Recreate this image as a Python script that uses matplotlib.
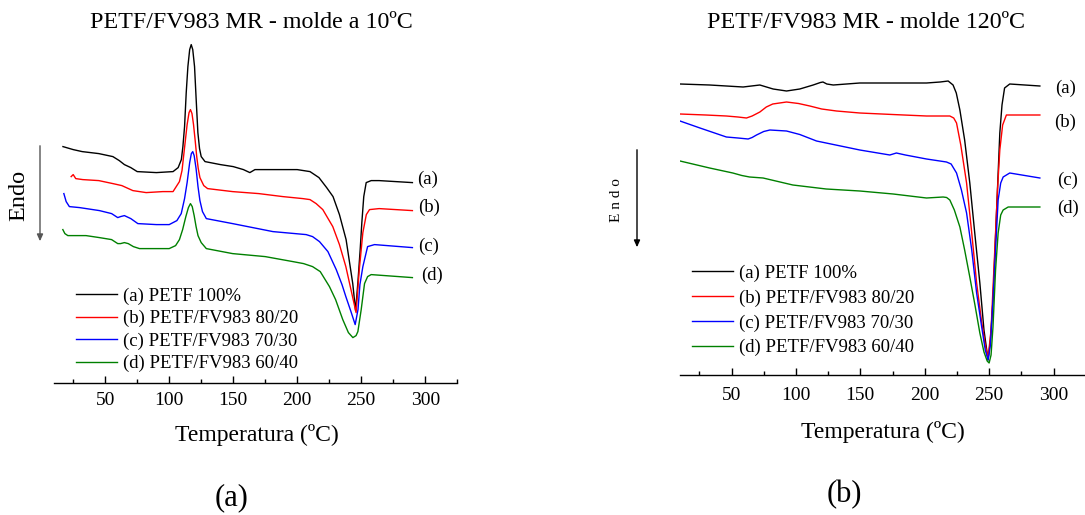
import matplotlib
matplotlib.use('Agg')
import matplotlib.pyplot as plt

plt.rcParams['font.family'] = ['Liberation Serif', 'DejaVu Serif']

# ---- panel (a): molde a 10 C  (heat flow in a.u., curves offset) ----
Ta_a = [17, 25, 32, 45, 56, 61, 65, 70, 75, 90, 103, 107, 109.5, 110.7, 112, 113.3, 114.6,
        116, 117.2, 118.4, 119.8, 121, 122.4, 123.7, 125, 128, 140, 150, 158, 163, 167,
        175, 200, 210, 217, 223, 228, 233, 238.2, 243.4, 245.6, 247.4, 249.2, 250.5,
        252, 253.9, 257.8, 264, 290]
ya_a = [236, 233, 231, 229, 226, 222, 218, 215, 211, 210, 211, 215, 223, 236, 256, 290, 316,
        333, 338, 333, 316, 285, 250, 234, 226, 221, 218, 216, 213, 210, 213,
        213, 213, 211, 205, 195, 186, 168, 143, 99, 72, 100, 133, 160,
        186, 200, 202, 202, 200]

Ta_b = [23.4, 25, 27, 32.5, 45, 56, 63, 71.6, 82, 95, 103, 108, 110, 112, 114, 115.5, 116.6,
        117.8, 119, 120.3, 121.5, 122.7, 124, 127, 130, 149.5, 170, 188.8, 204.4, 210,
        214.8, 220, 227.8, 233, 238, 242, 246, 248.5, 251.3, 254, 256.5, 264, 290]
ya_b = [206, 208, 204, 203, 202, 199, 197, 192, 190, 191, 191, 201, 212, 235, 258, 270, 273,
        269, 258, 242, 226, 214, 205, 197, 194, 191, 189, 186, 184, 183,
        179, 173, 156, 138, 116, 93, 70, 113, 150, 168, 173, 174, 172]

Ta_c = [17.7, 19.5, 22, 30, 45.5, 55, 59.8, 62, 65, 70, 75.5, 90, 100, 106, 109.4, 112,
        114, 116, 117.3, 118.4, 119.5, 121, 122.5, 124, 126, 129, 149.5, 181, 207, 212,
        217.4, 224, 230.5, 235, 238, 242, 245.3, 247.5, 249, 251.3, 255, 260.4, 290]
ya_c = [189, 181, 176, 175, 172, 169, 165, 166, 167, 164, 159, 158, 158, 162, 169, 184,
        200, 220, 229, 231, 227, 214, 196, 182, 171, 164, 159, 151, 148, 146,
        141, 131, 113, 98, 86, 71, 58, 73, 98, 116, 136, 138, 135]

Ta_d = [16.9, 18.5, 20.8, 35, 45.5, 55, 59.8, 62, 65, 68, 72, 76.8, 100, 105, 108, 110.5,
        113, 115, 116.6, 118, 119.5, 121, 122.5, 125, 129, 149.5, 175, 196.6, 205, 212,
        218, 225.2, 230, 235.6, 240, 243.5, 246, 247.4, 250, 252.6, 255, 257.8, 290]
ya_d = [153, 149, 147, 147, 145, 143, 139, 139, 140, 139, 136, 134, 134, 137, 143, 153,
        166, 175, 179, 176, 167, 156, 147, 140, 134, 129, 126, 121, 119, 116,
        111, 96, 83, 63, 50, 45, 47, 51, 73, 99, 106, 108, 105]

# ---- panel (b): molde 120 C ----
Tb_a = [10, 33, 59, 72, 82.3, 92.7, 103, 113.4, 119, 121, 124, 129, 149.6, 175.5, 201.4,
        212, 218.2, 222, 224.5, 227.3, 231, 235, 239, 242.8, 246, 249.2, 251, 253,
        255.5, 258.3, 260, 262, 266, 289.4]
yb_a = [291, 290, 288, 290, 286, 284, 286, 290, 292.5, 293, 291, 290, 292, 292, 292,
        293, 294, 290, 282, 265, 235, 192, 140, 92, 45, 15, 35, 75,
        155, 242, 270, 287, 291, 289]

Tb_b = [10, 30, 46, 55, 61.6, 66, 72, 77, 82, 92.7, 102, 110.8, 120, 131.5, 149.6, 175,
        201.4, 219.5, 222.5, 224.7, 228, 232.5, 236.5, 240.3, 244, 247, 249.2, 251.5,
        254.4, 256.5, 258.3, 260.5, 263.4, 289.4]
yb_b = [261, 260, 259, 258, 257, 259, 263, 268, 271, 273, 271.5, 269, 266, 264, 262, 260.5,
        259, 259, 257, 252, 230, 192, 142, 92, 55, 30, 17, 45,
        125, 185, 225, 250, 260, 260]

Tb_c = [10, 25.5, 46, 55, 62.9, 66, 69.4, 75, 79.8, 92.7, 103, 116, 149.6, 172.9, 178,
        185, 201.4, 216.9, 220.5, 224.7, 228.5, 232.5, 236.5, 240.3, 244, 247, 249.2,
        251, 253, 255, 257, 259, 260.9, 266, 289.4]
yb_c = [254, 247, 238, 237, 236, 237.5, 240, 243.5, 245, 244, 240.5, 234, 225, 220, 222,
        220, 216, 213, 211, 202, 185, 162, 125, 82, 50, 25, 15,
        30, 75, 125, 175, 192, 198, 202, 197]

Tb_d = [10, 33, 51, 58, 64, 74.5, 97.6, 123.5, 149.6, 175.5, 201.4, 214.3, 217, 219.5,
        223, 227.3, 231, 235, 239, 242.8, 246, 248.5, 250, 251.5, 253, 255, 257, 259,
        260.9, 264.8, 289.4]
yb_d = [214, 207, 202, 199.5, 198, 197, 190, 186, 184, 181, 177, 178, 177.5, 175,
        165, 148, 125, 98, 70, 42, 23, 14, 12, 20, 48, 105, 142, 160,
        165, 168, 168]

labels = ['(a) PETF 100%', '(b) PETF/FV983 80/20',
          '(c) PETF/FV983 70/30', '(d) PETF/FV983 60/40']
colors = ['black', '#ff0000', '#0000ff', '#008000']
tags = ['(a)', '(b)', '(c)', '(d)']
tag_pos_a = [(302, 203), (303, 175), (303, 136), (305, 107)]
tag_pos_b = [(309, 287), (309, 253), (311, 195), (311, 167)]

W, H = 1085, 515
fig = plt.figure(figsize=(W / 100, H / 100), dpi=100)


def setup_axes(ax):
    for s in ['left', 'top', 'right']:
        ax.spines[s].set_visible(False)
    ax.spines['bottom'].set_linewidth(1.0)
    ax.set_yticks([])
    ax.set_xlim(10, 325)
    ax.set_xticks([50, 100, 150, 200, 250, 300])
    ax.set_xticks(range(25, 326, 50), minor=True)
    ax.tick_params(axis='x', which='major', direction='in', length=5, width=1,
                   labelsize=14, pad=6.5)
    ax.tick_params(axis='x', which='minor', direction='in', length=3, width=1)
    ax.patch.set_alpha(0)


# left panel: axis from x=54px to 457px, baseline at y=382.6px
ax1 = fig.add_axes([54 / W, (H - 382.6) / H, 315 * 1.28 / W, 342.6 / H])
setup_axes(ax1)
ax1.set_ylim(0, 342.6)
for T, y, c, lab in zip([Ta_a, Ta_b, Ta_c, Ta_d], [ya_a, ya_b, ya_c, ya_d], colors, labels):
    ax1.plot(T, y, color=c, lw=1.0, label=lab)
for t, (x, y) in zip(tags, tag_pos_a):
    ax1.text(x, y, t, fontsize=13.5, ha='center', va='center', clip_on=False)
ax1.legend(loc='upper left', bbox_to_anchor=(0.055, 0.278), frameon=False, fontsize=13.5,
           handlelength=2.2, handletextpad=0.3, labelspacing=0.28, borderpad=0,
           borderaxespad=0)

# right panel: axis from x=680px, baseline at y=375px
ax2 = fig.add_axes([680 / W, (H - 375) / H, 315 * 1.288 / W, 300 / H])
setup_axes(ax2)
ax2.set_ylim(0, 300)
ax2.tick_params(axis='x', which='major', pad=8.5)
for T, y, c, lab in zip([Tb_a, Tb_b, Tb_c, Tb_d], [yb_a, yb_b, yb_c, yb_d], colors, labels):
    ax2.plot(T, y, color=c, lw=1.0, label=lab)
for t, (x, y) in zip(tags, tag_pos_b):
    ax2.text(x, y, t, fontsize=13.5, ha='center', va='center', clip_on=False)
ax2.legend(loc='upper left', bbox_to_anchor=(0.029, 0.368), frameon=False, fontsize=13.5,
           handlelength=2.2, handletextpad=0.3, labelspacing=0.4, borderpad=0,
           borderaxespad=0)

# titles, axis labels, panel letters (figure pixel positions)
def ftext(x, y, s, **kw):
    fig.text(x / W, 1 - y / H, s, ha='center', va='center', **kw)

ftext(251, 22, 'PETF/FV983 MR - molde a 10ºC', fontsize=17.3)
ftext(866, 22, 'PETF/FV983 MR - molde 120ºC', fontsize=17.3)
ftext(257, 435, 'Temperatura (ºC)', fontsize=17)
ftext(883, 432, 'Temperatura (ºC)', fontsize=17)
ftext(232, 498, '(a)', fontsize=22)
ftext(844, 495, '(b)', fontsize=22)
ftext(19, 195, 'Endo', fontsize=17.5, rotation=90)
ftext(617, 200, 'E n d o', fontsize=11, rotation=90)

# Endo arrows
fig.add_artist(matplotlib.patches.FancyArrowPatch(
    (40 / W, 1 - 143 / H), (40 / W, 1 - 244 / H), transform=fig.transFigure,
    arrowstyle='-|>,head_length=4,head_width=1.8', color='#555555', lw=1.0,
    mutation_scale=1))
fig.add_artist(matplotlib.patches.FancyArrowPatch(
    (637 / W, 1 - 147 / H), (637 / W, 1 - 250 / H), transform=fig.transFigure,
    arrowstyle='-|>,head_length=4,head_width=1.8', color='black', lw=1.0,
    mutation_scale=1))

fig.savefig('out.png', dpi=100)
